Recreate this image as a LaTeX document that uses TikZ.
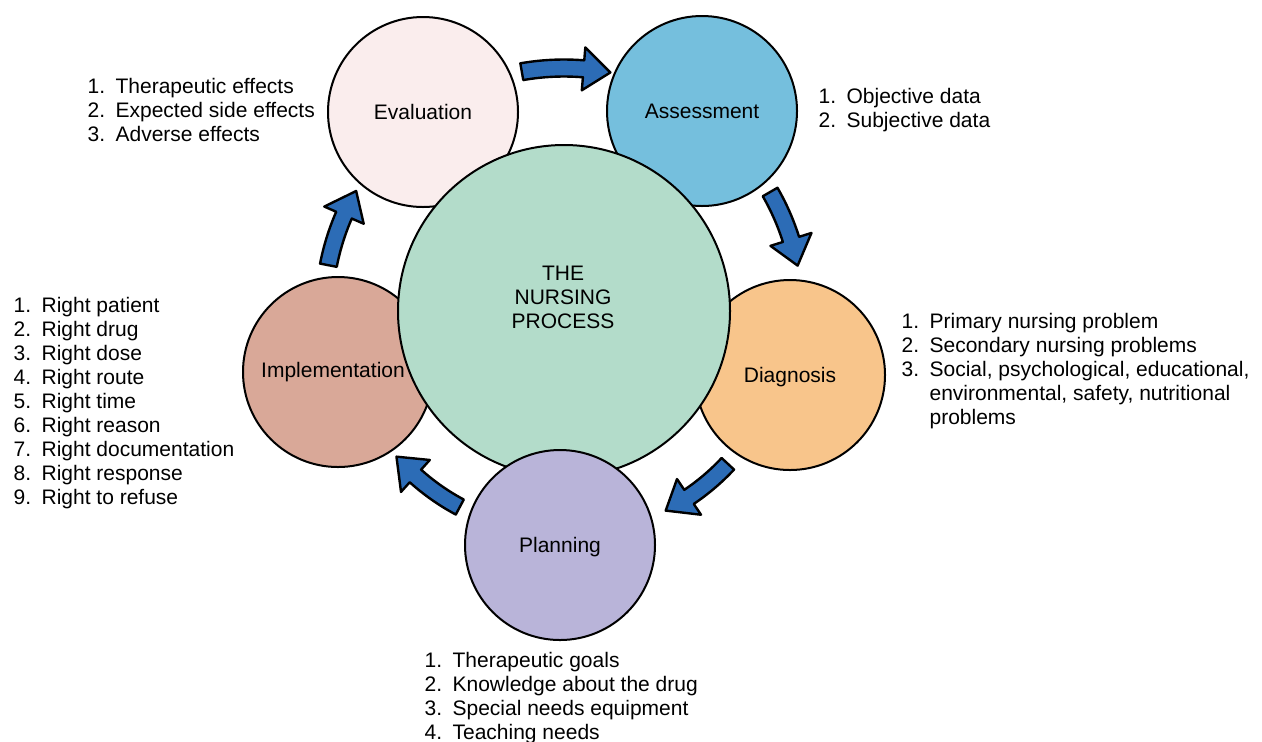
\documentclass[tikz,border=0pt]{standalone}
\usepackage{fontspec}
\setmainfont{Liberation Sans}
\usepackage{xcolor}
\usepackage{tikz}
\usetikzlibrary{shapes,calc,positioning}

\definecolor{evalpink}{RGB}{250,237,237}
\definecolor{assessblue}{RGB}{117,191,221}
\definecolor{diagorange}{RGB}{248,197,139}
\definecolor{planlilac}{RGB}{185,180,217}
\definecolor{implsalmon}{RGB}{217,168,152}
\definecolor{coremint}{RGB}{179,220,202}
\definecolor{arrowblue}{RGB}{44,108,182}

% numbered list next to a phase
\newcommand{\steplist}[1]{\begin{tabular}{@{}p{14pt}@{}l@{}}#1\end{tabular}}

% curved block arrow round the core: start angle, end angle, radius
\newcommand{\pointer}[3]{%
\pgfmathsetmacro\nk{#2-sign(#2-#1)*1550/#3}
\pgfmathsetmacro\ro{#3+8.5}
\pgfmathsetmacro\ri{#3-8.5}
\pgfmathsetmacro\ho{#3+21.5}
\pgfmathsetmacro\hi{#3-21.5}
\draw[pointer] ($(core)+(#1:\ro)$) arc[start angle=#1, end angle=\nk, radius=\ro]
  -- ($(core)+(\nk:\ho)$) -- ($(core)+(#2:#3)$) -- ($(core)+(\nk:\hi)$)
  -- ($(core)+(\nk:\ri)$) arc[start angle=\nk, end angle=#1, radius=\ri] -- cycle;}

\begin{document}
\begin{tikzpicture}[x=0.5pt,y=0.5pt,semithick,
font=\fontsize{10.5}{12}\selectfont]

\tikzstyle{phase}=[circle, draw=black, line width=1pt, minimum size=95pt,
inner sep=0pt, text=black]
\tikzstyle{steps}=[anchor=north west, inner sep=0pt]
\tikzstyle{pointer}=[fill=arrowblue, draw=black, line width=1.2pt, line join=round]

\useasboundingbox (0,0) rectangle (1262,-741);

%outer phases
\node[phase,fill=evalpink] (eval) at (423,-112) {Evaluation};
\node[phase,fill=assessblue] (assess) at (702,-111) {Assessment};
\node[phase,fill=diagorange,text depth=0pt] (diag) at (790,-375) {Diagnosis};
\node[phase,fill=implsalmon] (impl) at (338,-372) {};

%centre
\node[phase,fill=coremint,minimum size=166pt] (core) at (564,-311) {};
\node[align=center] (title) at (563,-297) {THE\\NURSING\\PROCESS};
\node (impltext) at (333,-372) {Implementation};

\node[phase,fill=planlilac,text depth=0pt] (plan) at (560,-545) {Planning};

%lists
\node[steps] (evallist) at (87,-75.7) {\steplist{
1. & Therapeutic effects\\
2. & Expected side effects\\
3. & Adverse effects}};

\node[steps] (assesslist) at (818,-85.7) {\steplist{
1. & Objective data\\
2. & Subjective data}};

\node[steps] (diaglist) at (901,-310.7) {\steplist{
1. & Primary nursing problem\\
2. & Secondary nursing problems\\
3. & Social, psychological, educational,\\
   & environmental, safety, nutritional\\
   & problems}};

\node[steps] (planlist) at (424,-650) {\steplist{
1. & Therapeutic goals\\
2. & Knowledge about the drug\\
3. & Special needs equipment\\
4. & Teaching needs}};

\node[steps] (impllist) at (13,-295.2) {\steplist{
1. & Right patient\\
2. & Right drug\\
3. & Right dose\\
4. & Right route\\
5. & Right time\\
6. & Right reason\\
7. & Right documentation\\
8. & Right response\\
9. & Right to refuse}};

%arrows
\pointer{100}{79}{243}
\pointer{30}{11}{238}
\pointer{-43}{-63}{224}
\pointer{-118}{-139}{222}
\pointer{169}{150}{240}

\end{tikzpicture}
\end{document}
